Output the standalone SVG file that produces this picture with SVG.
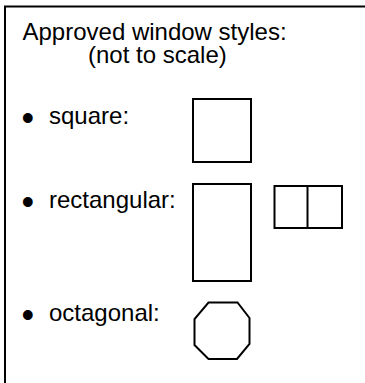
<svg xmlns="http://www.w3.org/2000/svg" width="365" height="383" viewBox="0 0 365 383">
<style>
text{font-family:"Liberation Sans",Arial,sans-serif;font-size:24px;fill:#000}
text.b{font-size:36px}
.w{fill:#fff;stroke:#000;stroke-width:2}
</style>
<rect x="0" y="0" width="365" height="383" fill="#fff"/>
<g id="frame"><rect x="5" y="6.5" width="370" height="390" fill="#fff" stroke="#000" stroke-width="2"/></g>
<g id="title">
<text x="22.5" y="40">Approved window styles:</text>
<text x="88" y="63">(not to scale)</text>
</g>
<g id="square">
<text class="b" x="21.5" y="129.5">•</text><text x="49" y="124">square:</text>
<rect class="w" x="193" y="99" width="58" height="63"/>
</g>
<g id="rectangular">
<text class="b" x="21.5" y="213.5">•</text><text x="49" y="208">rectangular:</text>
<rect class="w" x="193" y="184" width="58" height="97"/>
<rect class="w" x="274.5" y="186" width="67.5" height="42"/>
<line x1="307.5" y1="186" x2="307.5" y2="228" stroke="#000" stroke-width="2"/>
</g>
<g id="octagonal">
<text class="b" x="21.5" y="326.5">•</text><text x="49" y="321">octagonal:</text>
<polygon class="w" points="208.5,302.5 237.5,302.5 249.5,318 249.5,344 237,359 208.5,359 194.5,345 194.5,319"/>
</g>
<g id="connectors"></g>
</svg>
